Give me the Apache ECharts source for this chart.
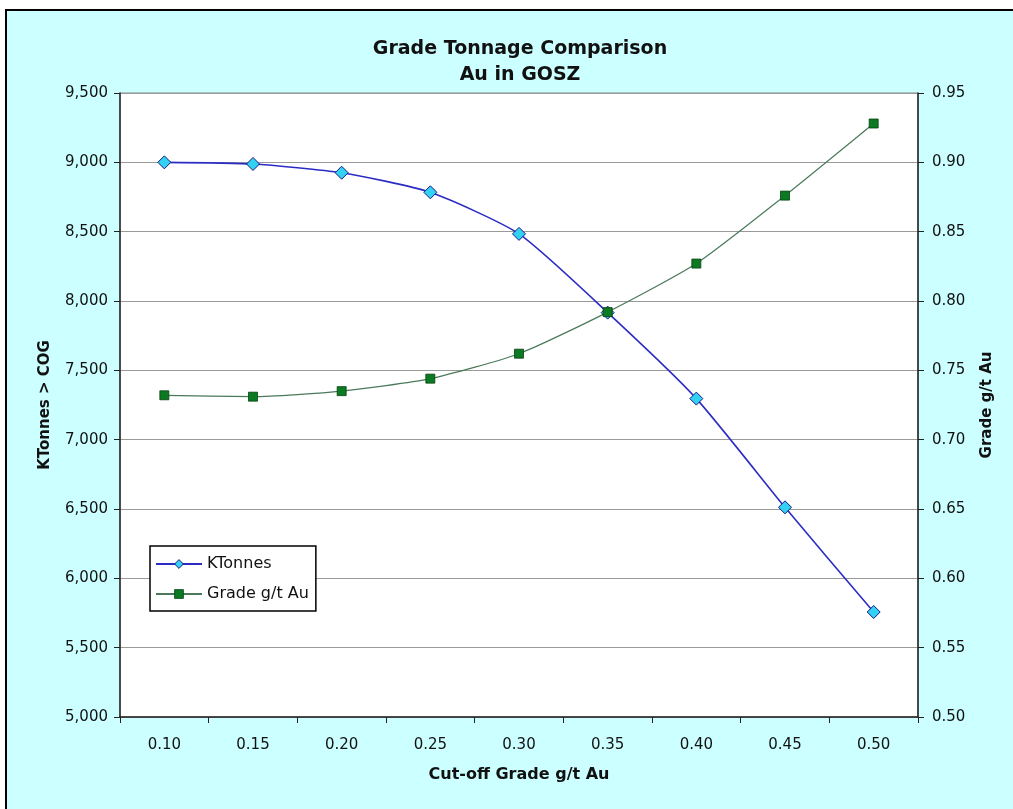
<!DOCTYPE html>
<html>
<head>
<meta charset="utf-8">
<script src="https://cdn.jsdelivr.net/npm/echarts@6/dist/echarts.min.js"></script>
<style>
html,body{margin:0;padding:0;background:#fff;}
#chart{width:1013px;height:809px;}
</style>
</head>
<body>
<div id="chart"></div>
<script>
// ---- data ----
const categories = ['0.10','0.15','0.20','0.25','0.30','0.35','0.40','0.45','0.50'];
const kTonnes = [9000, 8988, 8925, 8784, 8484, 7916, 7296, 6512, 5757];
const gradeAu = [0.732, 0.731, 0.735, 0.744, 0.762, 0.792, 0.827, 0.876, 0.928];
const leftTicks = {min: 5000, max: 9500, interval: 500};
const rightTicks = {min: 0.50, max: 0.95, interval: 0.05};
const titleLines = ['Grade Tonnage Comparison', 'Au in GOSZ'];
const seriesNames = ['KTonnes', 'Grade g/t Au'];
const axisNames = {x: 'Cut-off Grade g/t Au', left: 'KTonnes > COG', right: 'Grade g/t Au'};

const chart = echarts.init(document.getElementById('chart'), null, {renderer: 'canvas'});
const labelFont = {fontFamily: 'DejaVu Sans', fontSize: 15, color: '#111'};
const nameFont = {fontFamily: 'DejaVu Sans', fontWeight: 'bold', fontSize: 15, color: '#111'};

const diamondStyle = {color: '#33D2F5', borderColor: '#1A1A80', borderWidth: 1};
const squareStyle = {color: '#0B7A22', borderColor: '#064010', borderWidth: 0.8};

const option = {
  backgroundColor: '#ffffff',
  animation: false,
  graphic: [{
    type: 'rect', z: -10, silent: true,
    shape: {x: 6, y: 10, width: 1020, height: 820},
    style: {fill: '#CCFFFF', stroke: '#000', lineWidth: 2}
  }],
  title: {
    text: titleLines.join('\n'),
    left: 515, top: 31, textAlign: 'center',
    textStyle: {fontFamily: 'DejaVu Sans', fontWeight: 'bold', fontSize: 19, lineHeight: 26, color: '#111'}
  },
  legend: {
    orient: 'vertical', left: 150, top: 546,
    backgroundColor: '#ffffff', borderColor: '#000', borderWidth: 1.5, borderRadius: 0,
    padding: [10, 7, 9, 5], itemWidth: 46, itemHeight: 11, itemGap: 14,
    textStyle: {fontFamily: 'DejaVu Sans', fontSize: 16, color: '#111'},
    data: [
      {name: seriesNames[0], itemStyle: diamondStyle},
      {name: seriesNames[1], itemStyle: squareStyle}
    ]
  },
  grid: {
    left: 120, right: 95, top: 93, bottom: 92,
    show: true, backgroundColor: '#ffffff', borderColor: '#888', borderWidth: 1
  },
  xAxis: {
    type: 'category', data: categories, boundaryGap: true,
    name: axisNames.x, nameLocation: 'middle', nameGap: 50,
    nameTextStyle: Object.assign({}, nameFont, {fontSize: 16}),
    axisLine: {lineStyle: {color: '#222', width: 1.5}},
    axisTick: {show: true, length: 6, inside: false, lineStyle: {color: '#222'}},
    axisLabel: Object.assign({margin: 21}, labelFont),
    splitLine: {show: false}
  },
  yAxis: [{
    type: 'value', position: 'left',
    min: leftTicks.min, max: leftTicks.max, interval: leftTicks.interval,
    name: axisNames.left, nameLocation: 'middle', nameGap: 67, nameRotate: 90,
    nameTextStyle: Object.assign({}, nameFont),
    axisLine: {show: true, lineStyle: {color: '#222', width: 1.5}},
    axisTick: {show: true, length: 6, lineStyle: {color: '#222'}},
    axisLabel: Object.assign({margin: 12, formatter: v => v.toLocaleString('en-US')}, labelFont),
    splitLine: {show: true, lineStyle: {color: '#9a9a9a', width: 1}}
  }, {
    type: 'value', position: 'right',
    min: rightTicks.min, max: rightTicks.max, interval: rightTicks.interval,
    name: axisNames.right, nameLocation: 'middle', nameGap: 62, nameRotate: 90,
    nameTextStyle: Object.assign({}, nameFont),
    axisLine: {show: true, lineStyle: {color: '#222', width: 1.5}},
    axisTick: {show: true, length: 6, lineStyle: {color: '#222'}},
    axisLabel: Object.assign({margin: 14, formatter: v => v.toFixed(2)}, labelFont),
    splitLine: {show: false}
  }],
  series: [{
    name: seriesNames[0], type: 'line', yAxisIndex: 0, data: kTonnes,
    smooth: 0.2, symbol: 'diamond', symbolSize: 13,
    lineStyle: {color: '#2C2CC4', width: 1.6},
    itemStyle: diamondStyle
  }, {
    name: seriesNames[1], type: 'line', yAxisIndex: 1, data: gradeAu,
    smooth: 0.2, symbol: 'rect', symbolSize: 9,
    lineStyle: {color: '#4A7A5A', width: 1.2},
    itemStyle: squareStyle
  }]
};
chart.setOption(option);
</script>
</body>
</html>
